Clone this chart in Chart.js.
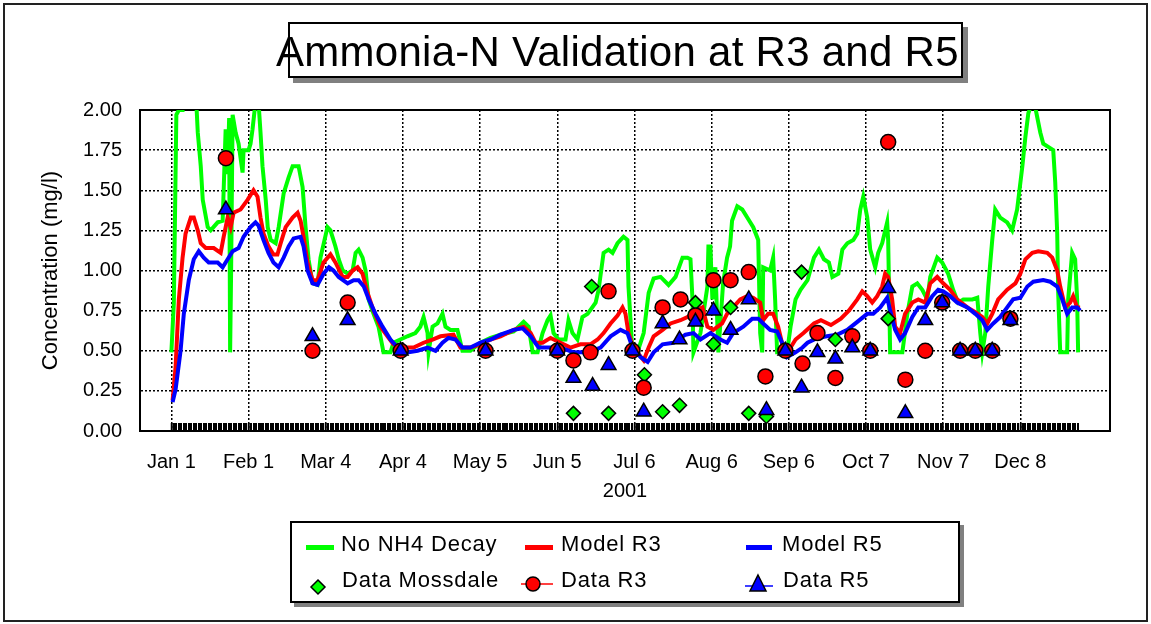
<!DOCTYPE html>
<html>
<head>
<meta charset="utf-8">
<title>Ammonia-N Validation at R3 and R5</title>
<script src="https://cdn.jsdelivr.net/npm/chart.js@4.4.0/dist/chart.umd.min.js"></script>
<style>
  body { margin: 0; background: #fff; font-family: Arial, "Liberation Sans", sans-serif; }
  #wrap { position: relative; width: 1151px; height: 624px; overflow: hidden; background: #fff; }
  #chart { position: absolute; left: 0; top: 0; display: block; }
  #frame { position: absolute; left: 3px; top: 3px; width: 1141px; height: 615px; border: 2px solid #222; }
  #title { position: absolute; left: 288px; top: 22px; width: 671px; height: 52px; border: 2px solid #000;
           box-shadow: 5px 5px 0 #808080; background: #fff; }
  #title span { position: absolute; left: -14px; top: 7px; font-size: 42px; line-height: 42px; letter-spacing: 0.27px;
                white-space: nowrap; color: #000; }
  #legend { position: absolute; left: 290px; top: 521px; width: 666px; height: 78px; border: 2px solid #000;
            box-shadow: 4px 4px 0 #808080; background: #fff; }
  .lg-text { position: absolute; font-size: 22px; line-height: 22px; letter-spacing: 0.8px; white-space: nowrap; color: #000; }
  .lg-line { position: absolute; height: 5px; }
  .lg-icon { position: absolute; overflow: visible; }
</style>
</head>
<body>
<div id="wrap">
  <canvas id="chart" width="1151" height="624"></canvas>
  <div id="frame"></div>
  <div id="title"><span>Ammonia-N Validation at R3 and R5</span></div>

  <div id="legend"></div>
  <div class="lg-line" style="left:306px;top:545px;width:28px;background:#00ff00"></div>
  <div class="lg-text" style="left:341px;top:533px">No NH4 Decay</div>
  <div class="lg-line" style="left:525px;top:545px;width:28px;background:#ff0000"></div>
  <div class="lg-text" style="left:561px;top:533px">Model R3</div>
  <div class="lg-line" style="left:746px;top:545px;width:26px;background:#0000ff"></div>
  <div class="lg-text" style="left:782px;top:533px">Model R5</div>

  <svg class="lg-icon" style="left:310px;top:579px" width="16" height="16">
    <polygon points="8,1 15,8 8,15 1,8" fill="#00ff00" stroke="#000" stroke-width="1.5"/>
  </svg>
  <div class="lg-text" style="left:342px;top:569px">Data Mossdale</div>
  <svg class="lg-icon" style="left:521px;top:575px" width="32" height="18">
    <line x1="0" y1="9" x2="32" y2="9" stroke="#ff0000" stroke-width="1.5"/>
    <circle cx="12" cy="9" r="7" fill="#ff0000" stroke="#000" stroke-width="1.5"/>
  </svg>
  <div class="lg-text" style="left:561px;top:569px">Data R3</div>
  <svg class="lg-icon" style="left:745px;top:574px" width="28" height="19">
    <line x1="0" y1="12" x2="28" y2="12" stroke="#0000ff" stroke-width="1.5"/>
    <polygon points="13,1 21,17 5,17" fill="#0000ff" stroke="#000" stroke-width="1.5"/>
  </svg>
  <div class="lg-text" style="left:783px;top:569px">Data R5</div>
</div>

<script>
// day of year 2001 (Jan 1 = 0) and concentration in mg/l
const tickDays = [0, 31, 62, 93, 124, 155, 186, 217, 248, 279, 310, 341];
const tickLabels = ["Jan 1", "Feb 1", "Mar 4", "Apr 4", "May 5", "Jun 5", "Jul 6", "Aug 6", "Sep 6", "Oct 7", "Nov 7", "Dec 8"];
const yearLabel = "2001";

const noDecay = [
  [0, 0.49], [1, 0.8], [2, 1.97], [3, 2.0], [4.5, 2.0], [5, 2.3], [9, 2.3], [10, 2.05], [10.6, 1.86],
  [11.8, 1.65], [12.6, 1.44], [14.6, 1.27], [15.8, 1.25], [18.6, 1.3], [20.6, 1.31], [21.8, 1.88],
  [22.6, 1.6], [23.2, 1.95], [23.6, 0.49], [24, 1.0], [24.6, 1.97], [25.8, 1.86], [27, 1.79],
  [28.6, 1.61], [29, 1.75], [31, 1.75], [31.8, 1.79], [32.6, 1.88], [33.8, 2.05], [35, 2.05],
  [35.8, 1.86], [36.6, 1.65], [37.9, 1.44], [38.7, 1.27], [39.9, 1.19], [41.9, 1.17], [43.1, 1.27],
  [45.1, 1.48], [47.1, 1.58], [48.7, 1.65], [51.1, 1.65], [52.7, 1.52], [53.9, 1.27], [55.1, 1.07],
  [56.7, 0.92], [58.7, 0.91], [59.9, 1.08], [62.7, 1.27], [63.9, 1.25], [65.9, 1.15], [67.2, 1.07],
  [68.8, 1.0], [70.8, 0.98], [72.8, 1.0], [74, 1.11], [75.2, 1.13], [76.8, 1.08], [78, 1.0],
  [79.2, 0.82], [81.2, 0.73], [83.2, 0.65], [85.2, 0.49], [88, 0.49], [89.2, 0.55], [94.8, 0.59],
  [98, 0.61], [100, 0.65], [101.3, 0.71], [102.9, 0.61], [103.3, 0.49], [104.9, 0.65], [106.9, 0.67],
  [108.9, 0.73], [110.1, 0.65], [112.1, 0.63], [114.9, 0.63], [116.9, 0.5], [120.1, 0.5], [124.1, 0.55],
  [128.2, 0.58], [132.2, 0.6], [137.5, 0.62], [141.5, 0.68], [143.5, 0.65], [145.1, 0.49], [147.1, 0.49],
  [149.1, 0.61], [151.1, 0.69], [152.3, 0.72], [153.5, 0.61], [155.5, 0.57], [158.3, 0.57], [159.5, 0.69],
  [161.1, 0.61], [163.1, 0.57], [165.1, 0.71], [167.2, 0.73], [170.4, 0.8], [171.6, 0.88], [173.6, 1.11],
  [175.6, 1.13], [177.2, 1.11], [179.2, 1.17], [181.6, 1.21], [183.2, 1.19], [183.6, 0.9], [185.2, 0.49],
  [187.2, 0.49], [189.7, 0.61], [191.7, 0.86], [193.7, 0.95], [196.5, 0.96], [199.7, 0.91], [202.5, 0.96],
  [205.3, 1.08], [207.3, 1.08], [208.5, 1.07], [209.3, 0.82], [209.7, 0.49], [212.5, 0.61], [215.3, 0.9],
  [215.7, 1.15], [216.5, 1.15], [217.3, 0.82], [218.5, 1.02], [219.7, 0.49], [221.6, 0.92], [223.2, 1.08],
  [224.4, 1.15], [225.2, 1.31], [227.3, 1.4], [229.3, 1.38], [231.3, 1.33], [233.7, 1.27], [235.7, 1.19],
  [236.5, 0.61], [237.3, 0.49], [237.7, 1.02], [240.5, 1.0], [241.7, 1.08], [242.5, 0.82], [243.3, 0.49],
  [247.3, 0.49], [248.7, 0.65], [250.7, 0.82], [252.7, 0.88], [255.5, 0.94], [258.1, 1.08], [260.1, 1.13],
  [262.1, 1.07], [264.1, 1.05], [265.5, 0.96], [267.9, 0.98], [269.5, 1.13], [271.5, 1.17], [273.9, 1.19],
  [275.5, 1.23], [276.7, 1.38], [277.9, 1.46], [279.5, 1.33], [280.7, 1.13], [282.7, 1.02], [283.9, 1.11],
  [285.5, 1.17], [287.5, 1.3], [287.9, 1.19], [288.7, 0.49], [293.6, 0.49], [295.6, 0.73], [297.6, 0.9],
  [299.6, 0.92], [301.6, 0.88], [303.6, 0.82], [304.8, 0.96], [307.6, 1.08], [309.6, 1.05], [312, 0.98],
  [314, 0.88], [316, 0.8], [318.1, 0.82], [321.7, 0.82], [323.7, 0.83], [324.9, 0.61], [325.7, 0.49],
  [326.9, 0.61], [328.1, 0.9], [329.7, 1.19], [330.9, 1.38], [332.9, 1.33], [335.7, 1.3], [337.7, 1.25],
  [339.7, 1.38], [341.8, 1.65], [343, 1.83], [344.2, 1.98], [345.8, 2.05], [347.2, 2.0], [349, 1.86],
  [350.2, 1.79], [352.2, 1.77], [354.2, 1.75], [355, 1.55], [355.8, 1.23], [356.2, 0.86], [357, 0.49],
  [359.8, 0.49], [360.2, 0.82], [361.8, 1.11], [363, 1.07], [363.8, 0.82], [364.2, 0.49],
];

const modelR3 = [
  [0.5, 0.19], [1.7, 0.4], [3, 0.82], [4.5, 1.08], [5.7, 1.23], [7.8, 1.33], [9, 1.33], [10.6, 1.25],
  [11.8, 1.17], [13.8, 1.14], [17, 1.14], [19.8, 1.11], [21, 1.21], [22.6, 1.33], [23.8, 1.27], [25, 1.36],
  [27.8, 1.38], [30.6, 1.44], [33, 1.5], [34.6, 1.46], [35.8, 1.33], [37, 1.23], [39, 1.15], [41, 1.1],
  [42.6, 1.1], [43.9, 1.17], [45.9, 1.27], [48.7, 1.33], [50.7, 1.36], [51.9, 1.31], [53.1, 1.21],
  [54.7, 1.05], [56.7, 0.94], [58.7, 0.94], [61.1, 1.05], [63.9, 1.1], [65.9, 1.05], [68.8, 0.96],
  [70.8, 0.96], [72.8, 1.0], [74.8, 1.02], [76.8, 0.98], [78.8, 0.86], [81.2, 0.75], [84, 0.65],
  [86.8, 0.59], [89.2, 0.54], [92.8, 0.52], [97.3, 0.52], [101.3, 0.55], [104.9, 0.57], [108.1, 0.59],
  [113.3, 0.6], [116.1, 0.52], [120.1, 0.52], [124.1, 0.54], [128.2, 0.57], [132.2, 0.59], [137.5, 0.63],
  [141.5, 0.65], [144.3, 0.61], [146.3, 0.55], [149.1, 0.55], [152.3, 0.58], [156.3, 0.55], [160.3, 0.52],
  [164.3, 0.54], [168.3, 0.54], [171.2, 0.57], [173.6, 0.61], [176.4, 0.67], [179.2, 0.72], [181.2, 0.77],
  [182.4, 0.73], [183.6, 0.61], [185.6, 0.52], [189.7, 0.44], [191.7, 0.52], [193.7, 0.59], [197.3, 0.63],
  [200.5, 0.67], [204.5, 0.69], [207.3, 0.71], [210.5, 0.75], [213.3, 0.77], [215.3, 0.65], [217.7, 0.63],
  [221.2, 0.67], [223.2, 0.73], [225.6, 0.77], [228.5, 0.82], [231.3, 0.84], [233.7, 0.83], [236.5, 0.8],
  [237.7, 0.69], [239.7, 0.73], [241.7, 0.73], [243.7, 0.65], [245.7, 0.52], [248.7, 0.52], [250.7, 0.57],
  [253.9, 0.61], [258.1, 0.67], [260.9, 0.69], [264.9, 0.66], [268.9, 0.7], [272.1, 0.75], [275.5, 0.82],
  [277.5, 0.87], [279.5, 0.84], [281.5, 0.8], [283.5, 0.84], [285.5, 0.9], [286.7, 0.98], [287.9, 0.96],
  [289.5, 0.82], [290.7, 0.65], [292.7, 0.61], [294.7, 0.73], [297.6, 0.8], [300, 0.82], [302.8, 0.8],
  [304.8, 0.92], [307.6, 0.96], [310, 0.92], [312.8, 0.88], [315.6, 0.82], [319.7, 0.77], [322.9, 0.74],
  [325.7, 0.71], [327.7, 0.67], [329.7, 0.73], [332.1, 0.82], [335.7, 0.88], [339, 0.92], [341, 0.98],
  [343, 1.07], [345.8, 1.11], [348.2, 1.12], [351.8, 1.11], [353.8, 1.08], [355.8, 1.0], [357, 0.9],
  [359, 0.77], [361, 0.8], [362.2, 0.84], [363.8, 0.77], [365, 0.77],
];

const modelR5 = [
  [0.5, 0.18], [1.7, 0.26], [3.7, 0.5], [5, 0.73], [7, 0.94], [9, 1.07], [11, 1.12], [13, 1.08], [15, 1.05],
  [18.6, 1.05], [20.6, 1.02], [22.6, 1.07], [24.6, 1.12], [27, 1.14], [29, 1.21], [31.8, 1.27], [33.8, 1.3],
  [35, 1.28], [37, 1.19], [39, 1.11], [41, 1.05], [43.1, 1.02], [45.1, 1.08], [47.1, 1.15], [49.1, 1.2],
  [51.9, 1.21], [53.1, 1.15], [54.7, 1.0], [56.7, 0.92], [58.7, 0.91], [61.1, 0.98], [63.3, 1.02],
  [65.1, 1.0], [67.2, 0.96], [70.8, 0.92], [73.2, 0.94], [75.2, 0.94], [77.3, 0.9], [79.3, 0.82],
  [82, 0.73], [84.8, 0.65], [88, 0.57], [90.9, 0.52], [94.8, 0.49], [98.9, 0.5], [102.9, 0.52],
  [106.1, 0.5], [108.9, 0.55], [111.3, 0.58], [114.1, 0.57], [116.9, 0.52], [120.1, 0.52], [124.1, 0.55],
  [128.2, 0.57], [132.2, 0.6], [137.5, 0.63], [141.1, 0.64], [144.3, 0.59], [147.5, 0.52], [151.1, 0.52],
  [156.3, 0.52], [161.5, 0.49], [167.2, 0.49], [172.4, 0.52], [176.4, 0.59], [180.4, 0.63], [183.2, 0.61],
  [185.2, 0.52], [188.5, 0.46], [191.3, 0.43], [193.7, 0.49], [197.3, 0.54], [201.7, 0.55], [206.5, 0.6],
  [209.7, 0.61], [212.5, 0.57], [216.5, 0.61], [220.5, 0.57], [223.2, 0.55], [225.6, 0.61], [229.7, 0.65],
  [233.3, 0.7], [235.7, 0.7], [237.7, 0.67], [240.5, 0.63], [243.3, 0.62], [245.3, 0.55], [247.3, 0.46],
  [250.7, 0.49], [253.5, 0.52], [255.5, 0.55], [259.5, 0.58], [263.3, 0.59], [267.3, 0.6], [271.5, 0.63],
  [275.5, 0.68], [279.5, 0.73], [281.9, 0.73], [284.7, 0.77], [287.5, 0.83], [288.7, 0.75], [290.7, 0.63],
  [292.7, 0.57], [294.7, 0.61], [297.6, 0.71], [300, 0.77], [302.8, 0.77], [305.6, 0.84], [308, 0.88],
  [310, 0.87], [312.8, 0.84], [315.6, 0.8], [319.7, 0.77], [322.9, 0.73], [325.7, 0.69], [327.7, 0.63],
  [330.1, 0.67], [332.9, 0.71], [335.7, 0.77], [338.1, 0.82], [341, 0.83], [343.8, 0.9], [346.2, 0.93],
  [350.2, 0.94], [353, 0.93], [355.8, 0.9], [357.8, 0.82], [359.8, 0.73], [361.8, 0.77], [363.8, 0.77],
  [365, 0.75],
];

const dataMossdale = [
  [161.5, 0.11], [168.8, 0.9], [175.6, 0.11], [190, 0.35], [197.3, 0.12], [204.1, 0.16], [210.5, 0.8],
  [217.7, 0.54], [224.6, 0.77], [231.9, 0.11], [239, 0.09], [253.1, 0.99], [266.7, 0.57], [287.9, 0.7],
];

const dataR3 = [
  [21.9, 1.7], [56.7, 0.5], [70.8, 0.8], [92.1, 0.5], [126.2, 0.5], [155, 0.5], [161.5, 0.44], [168.3, 0.49],
  [175.6, 0.87], [185.2, 0.5], [189.7, 0.27], [197.3, 0.77], [204.5, 0.82], [210.5, 0.72], [217.7, 0.94],
  [224.6, 0.94], [231.9, 0.99], [238.6, 0.34], [246.6, 0.5], [253.5, 0.42], [259.5, 0.61], [266.7, 0.33],
  [273.5, 0.59], [280.7, 0.5], [287.9, 1.8], [294.8, 0.32], [302.8, 0.5], [309.6, 0.8], [316.8, 0.5],
  [322.9, 0.5], [329.7, 0.5], [337, 0.7],
];

const dataR5 = [
  [21.9, 1.38], [56.7, 0.59], [70.8, 0.69], [92.1, 0.5], [126.2, 0.5], [155, 0.5], [161.5, 0.33],
  [169.2, 0.28], [175.6, 0.41], [185.2, 0.5], [189.7, 0.12], [197.3, 0.67], [204.1, 0.57], [210.5, 0.68],
  [217.7, 0.75], [224.6, 0.63], [231.9, 0.82], [239, 0.13], [246.6, 0.5], [253.1, 0.27], [259.5, 0.49],
  [266.7, 0.45], [273.5, 0.52], [280.7, 0.5], [287.9, 0.89], [294.8, 0.11], [302.8, 0.69], [309.6, 0.8],
  [316.8, 0.5], [322.9, 0.5], [329.7, 0.5], [337, 0.69],
];

// one small tick mark per day of the year along the bottom axis
const dailyTicks = [];
for (let d = 0; d < 365; d++) dailyTicks.push(d);

const toPoints = (pairs) => pairs.map(([x, y]) => ({ x, y }));

const lineSet = (label, pairs, color, order) => ({
  label,
  data: toPoints(pairs),
  borderColor: color,
  backgroundColor: color,
  borderWidth: 4,
  pointRadius: 0,
  tension: 0,
  clip: 0,
  order,
});

const markSet = (label, pairs, fill, style, radius, order) => ({
  label,
  data: toPoints(pairs),
  showLine: false,
  pointStyle: style,
  pointRadius: radius,
  pointBackgroundColor: fill,
  pointBorderColor: "#000",
  pointBorderWidth: 1.5,
  order,
});

Chart.defaults.font.family = 'Arial, "Liberation Sans", sans-serif';
Chart.defaults.color = "#000";

const frameAxis = (position) => ({
  type: "linear",
  position,
  min: 0,
  max: 1,
  ticks: { display: false },
  grid: { drawOnChartArea: false, drawTicks: false },
  border: { display: true, color: "#000", width: 2 },
  afterFit: (axis) => {
    if (position === "top") axis.height = 0;
    else axis.width = 0;
  },
});

new Chart(document.getElementById("chart"), {
  type: "line",
  data: {
    datasets: [
      lineSet("No NH4 Decay", noDecay, "#00ff00", 6),
      lineSet("Model R3", modelR3, "#ff0000", 5),
      lineSet("Model R5", modelR5, "#0000ff", 4),
      markSet("Data Mossdale", dataMossdale, "#00ff00", "rectRot", 7, 3),
      markSet("Data R3", dataR3, "#ff0000", "circle", 7.5, 2),
      markSet("Data R5", dataR5, "#0000ff", "triangle", 8.5, 1),
    ],
  },
  options: {
    responsive: false,
    devicePixelRatio: 1,
    animation: false,
    events: [],
    layout: { padding: { left: 36, top: 110, right: 41, bottom: 0 } },
    plugins: {
      legend: { display: false },
      tooltip: { enabled: false },
    },
    scales: {
      x: {
        type: "linear",
        position: "bottom",
        min: -12.6,
        max: 377,
        afterBuildTicks: (axis) => {
          axis.ticks = dailyTicks.map((value) => ({ value }));
        },
        ticks: {
          autoSkip: false,
          maxRotation: 0,
          padding: 27,
          font: { size: 20 },
          callback: (value) => {
            const i = tickDays.indexOf(value);
            return i >= 0 ? tickLabels[i] : "";
          },
        },
        grid: {
          color: "#000",
          lineWidth: (c) => (c.tick && tickDays.includes(c.tick.value) ? 1.5 : 0),
          drawTicks: true,
          tickLength: -8,
          tickWidth: 2,
          tickColor: "#000",
          tickBorderDash: [],
        },
        border: { display: true, color: "#000", width: 2, dash: [2, 2] },
        title: {
          display: true,
          text: yearLabel,
          font: { size: 20 },
          padding: { top: 0, bottom: 121 },
        },
        afterFit: (axis) => {
          axis.height = 193;
        },
      },
      y: {
        min: 0,
        max: 2,
        ticks: {
          stepSize: 0.25,
          padding: 18,
          font: { size: 20 },
          callback: (value) => value.toFixed(2),
        },
        grid: { color: "#000", lineWidth: 1.5, drawTicks: false },
        border: { display: true, color: "#000", width: 2, dash: [2, 2] },
        title: {
          display: true,
          text: "Concentration (mg/l)",
          font: { size: 22 },
          padding: { top: 2, bottom: 0 },
        },
        afterFit: (axis) => {
          axis.width = 104;
        },
      },
      xTop: frameAxis("top"),
      yRight: frameAxis("right"),
    },
  },
});
</script>
</body>
</html>
